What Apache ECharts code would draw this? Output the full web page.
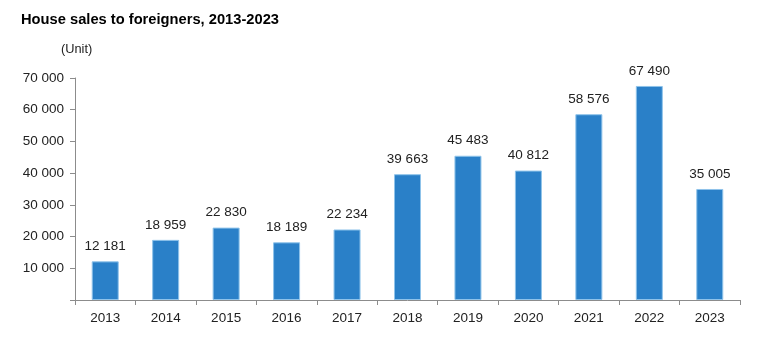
<!DOCTYPE html>
<html><head><meta charset="utf-8">
<script src="https://cdn.jsdelivr.net/npm/echarts@6/dist/echarts.min.js"></script>
<style>html,body{margin:0;padding:0;background:#fff}#c{width:771px;height:351px}</style>
</head><body><div id="c"></div>
<script>
const years = ['2013','2014','2015','2016','2017','2018','2019','2020','2021','2022','2023'];
const sales = [12181,18959,22830,18189,22234,39663,45483,40812,58576,67490,35005];
const yTicks = [0,10000,20000,30000,40000,50000,60000,70000];

function fmt(v){ return String(v).replace(/\B(?=(\d{3})+(?!\d))/g,' '); }

const chart = echarts.init(document.getElementById('c'), null, {renderer:'canvas'});
chart.setOption({
  animation:false,
  backgroundColor:'#fff',
  textStyle:{fontFamily:'Liberation Sans, Arial, sans-serif'},
  title:[
    {text:'House sales to foreigners, 2013-2023', left:16, top:7,
     textStyle:{fontSize:14.7, fontWeight:'bold', color:'#000', fontFamily:'Liberation Sans, Arial, sans-serif'}},
    {text:'(Unit)', left:56, top:38,
     textStyle:{fontSize:12.8, fontWeight:'normal', color:'#222', fontFamily:'Liberation Sans, Arial, sans-serif'}}
  ],
  grid:{left:75, right:31, top:78, bottom:51, containLabel:false},
  xAxis:{
    type:'category', data:years,
    axisLine:{lineStyle:{color:'#8c8c8c'}},
    axisTick:{show:true, alignWithLabel:false, length:5, lineStyle:{color:'#8c8c8c'}},
    axisLabel:{color:'#222', fontSize:13.5, margin:11}
  },
  yAxis:{
    type:'value', min:yTicks[0], max:yTicks[yTicks.length-1], interval:10000,
    axisLine:{show:true, lineStyle:{color:'#8c8c8c'}},
    axisTick:{show:true, length:5, lineStyle:{color:'#8c8c8c'}},
    splitLine:{show:false},
    axisLabel:{color:'#222', fontSize:13.5, margin:11, formatter:v=> v===0 ? '' : fmt(v)}
  },
  series:[{
    type:'bar', data:sales, barWidth:27,
    itemStyle:{color:'#2a80c8', borderColor:'#8fc3ea', borderWidth:1},
    label:{show:true, position:'top', distance:8, color:'#222', fontSize:13.5, formatter:p=>fmt(p.value)}
  }]
});
</script></body></html>
